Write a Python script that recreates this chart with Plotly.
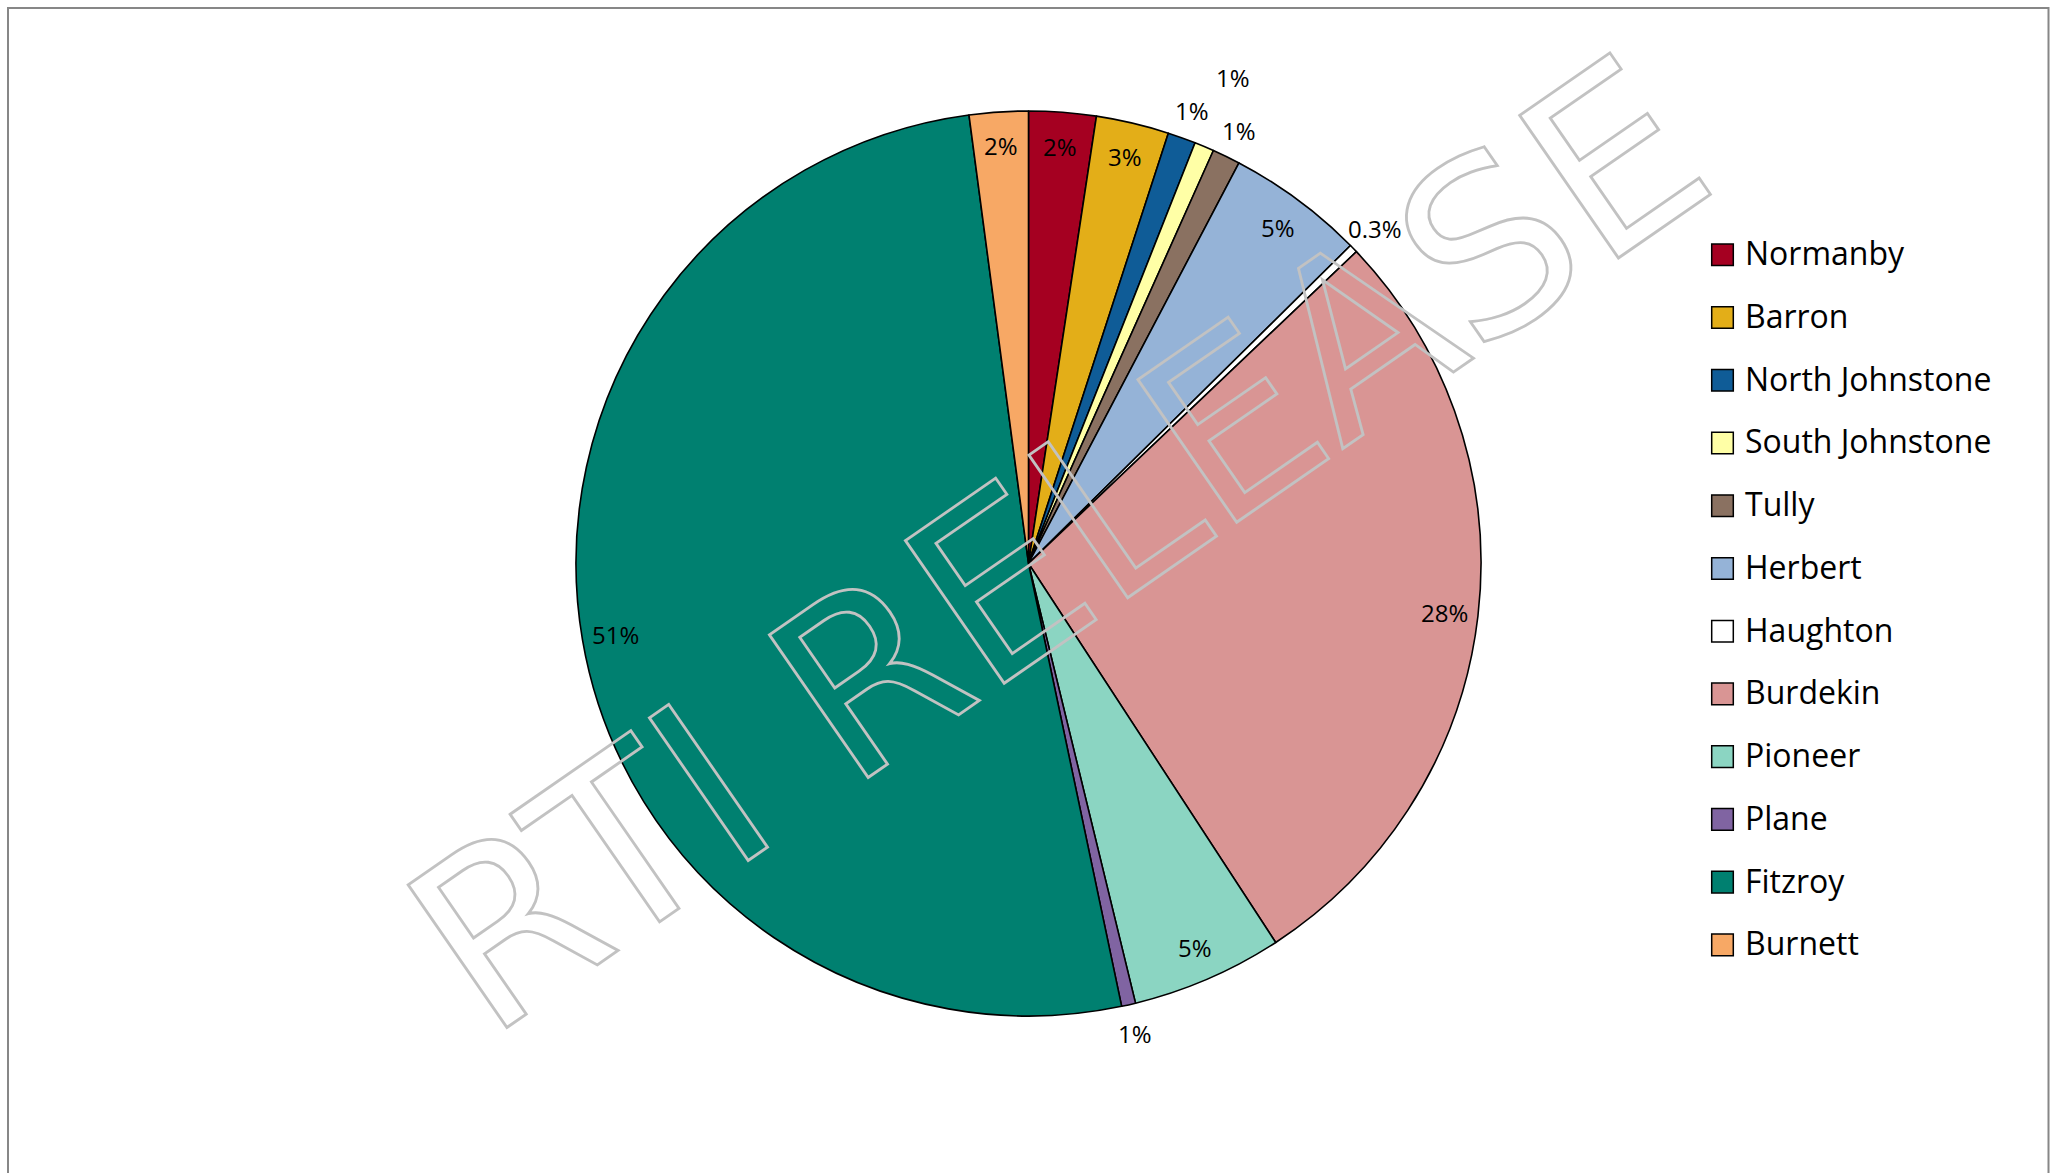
import math
import plotly.graph_objects as go

# ---------------- data ----------------
categories = ["Normanby", "Barron", "North Johnstone", "South Johnstone", "Tully",
              "Herbert", "Haughton", "Burdekin", "Pioneer", "Plane", "Fitzroy", "Burnett"]
values = [2.4, 2.6, 1.0, 0.7, 1.0, 4.9, 0.3, 27.9, 5.4, 0.5, 51.2, 2.1]
value_labels = ["2%", "3%", "1%", "1%", "1%", "5%", "0.3%", "28%", "5%", "1%", "51%", "2%"]

# ---------------- styles ----------------
colors = ["#A50021", "#E3AE18", "#0F5C97", "#FFFFA6", "#8A7161", "#95B3D7",
          "#FFFFFF", "#D99594", "#8BD5C2", "#8064A2", "#008070", "#F7A865"]
label_place = ["in", "in", "out", "out2", "out", "in", "out", "in", "in", "out", "in", "in"]
place_factor = {"in": 0.925, "out": 1.065, "out2": 1.165}

W, H = 2060, 1173
CX, CY, R = 1028.5, 563.5, 452.5


def px(x):
    return x / W


def py(y):
    return 1 - y / H


fig = go.Figure()
fig.add_trace(go.Pie(
    labels=categories,
    values=values,
    sort=False,
    direction="clockwise",
    rotation=0,
    marker=dict(colors=colors, line=dict(color="black", width=1.6)),
    textinfo="none",
    hoverinfo="label+percent",
    showlegend=False,
    domain=dict(x=[px(CX - R), px(CX + R)], y=[py(CY + R), py(CY - R)]),
))

annotations = []
total = sum(values)
cum = 0.0
for v, lab, place in zip(values, value_labels, label_place):
    mid = 2 * math.pi * (cum + v / 2) / total
    cum += v
    k = place_factor[place]
    x = CX + R * k * math.sin(mid)
    y = CY - R * k * math.cos(mid)
    annotations.append(dict(
        x=px(x), y=py(y), xref="paper", yref="paper", text=lab, showarrow=False,
        xanchor="center", yanchor="middle",
        font=dict(family="Open Sans", size=24, color="black"),
    ))

# custom legend
shapes = []
LEG_X0, LEG_SQ, LEG_Y0, LEG_STEP, LEG_TX = 1711.7, 21.6, 254.8, 62.73, 1743
for i, (name, col) in enumerate(zip(categories, colors)):
    yc = LEG_Y0 + i * LEG_STEP
    shapes.append(dict(
        type="rect", xref="paper", yref="paper",
        x0=px(LEG_X0), x1=px(LEG_X0 + LEG_SQ),
        y0=py(yc + LEG_SQ / 2), y1=py(yc - LEG_SQ / 2),
        fillcolor=col, line=dict(color="black", width=1.5),
    ))
    annotations.append(dict(
        x=px(LEG_TX), y=py(yc - 2), xref="paper", yref="paper", text=name,
        showarrow=False, xanchor="left", yanchor="middle",
        font=dict(family="Open Sans", size=32, color="black"),
    ))

# chart border
shapes.append(dict(
    type="rect", xref="paper", yref="paper",
    x0=px(8), x1=px(2048.5), y0=-0.05, y1=py(8),
    line=dict(color="#878787", width=2), fillcolor="rgba(0,0,0,0)",
))

# watermark
annotations.append(dict(
    x=px(1058), y=py(545), xref="paper", yref="paper", text="RTI RELEASE",
    showarrow=False, xanchor="center", yanchor="middle", textangle=-34.7,
    font=dict(family="DejaVu Sans", size=238, color="rgba(195,195,195,0.35)"),
))

fig.update_layout(
    width=W, height=H,
    margin=dict(l=0, r=0, t=0, b=0),
    paper_bgcolor="white", plot_bgcolor="white",
    shapes=shapes, annotations=annotations,
    showlegend=False,
)

post = """
var gd = document.getElementById('{plot_id}');
function wm(){
  gd.querySelectorAll('text.annotation-text').forEach(function(t){
    if (t.textContent === 'RTI RELEASE') {
      t.style.fill = 'none';
      t.style.stroke = '#c2c2c2';
      t.style.strokeWidth = '2.8px';
    }
  });
}
wm();
gd.on('plotly_afterplot', wm);
"""
fig.write_html("out.html", post_script=post)
